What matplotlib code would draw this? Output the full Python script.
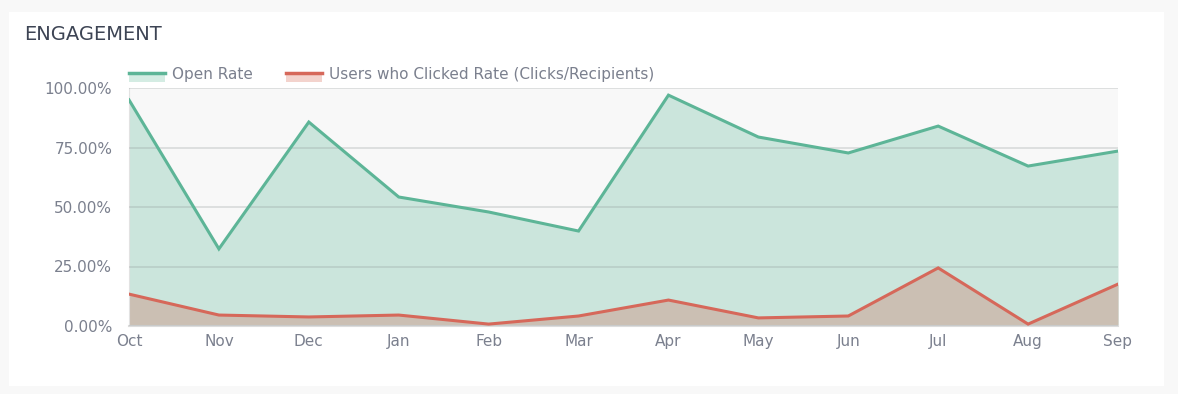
import matplotlib.pyplot as plt
from matplotlib.patches import Rectangle
from matplotlib.lines import Line2D
from matplotlib.ticker import FuncFormatter

# --- data (percent) ---
months = ["Oct", "Nov", "Dec", "Jan", "Feb", "Mar", "Apr", "May", "Jun", "Jul", "Aug", "Sep"]
open_rate = [95.0, 32.4, 85.7, 54.2, 47.9, 39.9, 97.0, 79.4, 72.7, 84.0, 67.2, 73.5]
click_rate = [13.4, 4.6, 3.8, 4.6, 0.8, 4.2, 10.9, 3.4, 4.2, 24.4, 0.8, 17.6]
y_ticks = [0, 25, 50, 75, 100]

GREEN = "#5db597"
GREEN_FILL = "#cbe5dc"
RED = "#d6685a"
RED_FILL = "#cbbfb3"
TEXT = "#7b808e"

plt.rcParams['font.family'] = ['DejaVu Sans']

W, H = 1178, 394
fig = plt.figure(figsize=(W / 100, H / 100), dpi=100, facecolor="#f8f8f8")

# white card behind everything
fig.patches.append(Rectangle((9 / W, 1 - 386 / H), (1164 - 9) / W, (386 - 12) / H,
                             transform=fig.transFigure, facecolor="white",
                             edgecolor="none", zorder=-10))

ax = fig.add_axes([129 / W, 1 - 326 / H, (1118 - 129) / W, (326 - 88) / H])
ax.set_zorder(1)
ax.set_facecolor("#f8f8f8")

x = range(len(months))
ax.fill_between(x, 0, open_rate, color=GREEN_FILL, lw=0, zorder=1)
ax.fill_between(x, 0, click_rate, color=RED_FILL, lw=0, zorder=2)
ax.plot(x, open_rate, color=GREEN, lw=2.2, zorder=4, solid_joinstyle="miter")
ax.plot(x, click_rate, color=RED, lw=2.2, zorder=4, solid_joinstyle="miter")

ax.set_xlim(0, len(months) - 1)
ax.set_ylim(0, 100)
ax.set_yticks(y_ticks)
ax.yaxis.set_major_formatter(FuncFormatter(lambda v, p: f"{v:.2f}%"))
ax.set_xticks(list(x))
ax.set_xticklabels(months)
ax.tick_params(length=0, colors=TEXT, labelsize=11)
ax.tick_params(axis="y", pad=12)
ax.tick_params(axis="x", pad=6)

ax.grid(axis="y", color="#8f9898", alpha=0.3, lw=1.2, zorder=3)
ax.set_axisbelow(False)
for s in ["top", "right"]:
    ax.spines[s].set_visible(False)
ax.spines["left"].set_color("#e2e2e2")
ax.spines["bottom"].set_color("#dcdcdc")
ax.spines["bottom"].set_linewidth(1.5)

# title
fig.text(24 / W, 1 - 35 / H, "ENGAGEMENT", fontsize=14, color="#3d4454",
         va="center", ha="left")

# legend drawn by hand: thick line on top of a pale block
def legend_item(x0, line_color, fill_color, label):
    fig.patches.append(Rectangle((x0 / W, 1 - 82 / H), 36 / W, 9 / H,
                                 transform=fig.transFigure, facecolor=fill_color,
                                 edgecolor="none"))
    fig.lines.append(Line2D([x0 / W, (x0 + 36) / W], [1 - 73 / H, 1 - 73 / H],
                            transform=fig.transFigure, color=line_color, lw=2.5))
    fig.text((x0 + 43) / W, 1 - 75 / H, label, fontsize=11, color=TEXT,
             va="center", ha="left")

legend_item(129, GREEN, "#d4ece3", "Open Rate")
legend_item(286, RED, "#f3d3cd", "Users who Clicked Rate (Clicks/Recipients)")

fig.savefig("out.png", dpi=100, facecolor=fig.get_facecolor())
